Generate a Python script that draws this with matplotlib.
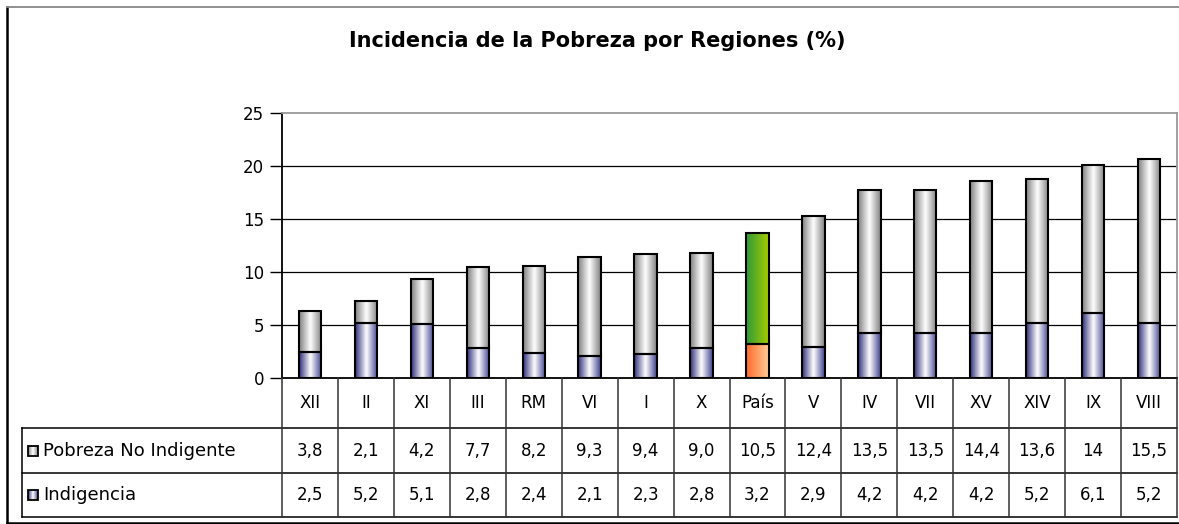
import numpy as np
import matplotlib
matplotlib.use("Agg")
from matplotlib import pyplot as plt
from matplotlib.colors import LinearSegmentedColormap
from matplotlib.patches import Rectangle
from matplotlib.lines import Line2D

regions = ["XII", "II", "XI", "III", "RM", "VI", "I", "X", "País",
           "V", "IV", "VII", "XV", "XIV", "IX", "VIII"]
no_indigente = [3.8, 2.1, 4.2, 7.7, 8.2, 9.3, 9.4, 9.0, 10.5,
                12.4, 13.5, 13.5, 14.4, 13.6, 14, 15.5]
indigencia = [2.5, 5.2, 5.1, 2.8, 2.4, 2.1, 2.3, 2.8, 3.2,
              2.9, 4.2, 4.2, 4.2, 5.2, 6.1, 5.2]
no_indigente_lbl = ["3,8", "2,1", "4,2", "7,7", "8,2", "9,3", "9,4", "9,0", "10,5",
                    "12,4", "13,5", "13,5", "14,4", "13,6", "14", "15,5"]
indigencia_lbl = ["2,5", "5,2", "5,1", "2,8", "2,4", "2,1", "2,3", "2,8", "3,2",
                  "2,9", "4,2", "4,2", "4,2", "5,2", "6,1", "5,2"]
series_names = ["Pobreza No Indigente", "Indigencia"]
yticks = [0, 5, 10, 15, 20, 25]
highlight = "País"

W, H = 1179, 524
plt.rcParams["font.family"] = ["DejaVu Sans"]

grey_cm = LinearSegmentedColormap.from_list("g", ["#808080", "#ffffff", "#808080"])
blue_cm = LinearSegmentedColormap.from_list("b", ["#2e2e7a", "#ffffff", "#40408f"])
orange_cm = LinearSegmentedColormap.from_list("o", ["#ff6a2a", "#ffcc99"])
green_cm = LinearSegmentedColormap.from_list("v", ["#2e9a3a", "#a6cc00"])
grad = np.linspace(0, 1, 128).reshape(1, -1)


def gradient_bar(ax, rect, cmap):
    x, y = rect.get_x(), rect.get_y()
    w, h = rect.get_width(), rect.get_height()
    ax.imshow(grad, cmap=cmap, extent=(x, x + w, y, y + h), aspect="auto",
              interpolation="bicubic", zorder=2)


fig = plt.figure(figsize=(W / 100, H / 100), dpi=100)
fig.patch.set_facecolor("white")

# outer frame: left/bottom dark, top light
fy = lambda p: 1 - p / H
fig.add_artist(Line2D([7 / W, 7 / W], [fy(7), fy(523)], color="black",
                      linewidth=1.8, transform=fig.transFigure))
fig.add_artist(Line2D([7 / W, 1], [fy(523), fy(523)], color="black",
                      linewidth=1.8, transform=fig.transFigure))
fig.add_artist(Line2D([7 / W, 1], [fy(7), fy(7)], color="#888888",
                      linewidth=1.3, transform=fig.transFigure))

fig.text(597 / W, fy(41), "Incidencia de la Pobreza por Regiones (%)",
         ha="center", va="center", fontsize=15, fontweight="bold")

# chart area
ax = fig.add_axes([282 / W, fy(378), 895 / W, (378 - 113) / H])
x = np.arange(len(regions))
b1 = ax.bar(x, indigencia, width=0.4, facecolor="none", edgecolor="black",
            linewidth=1.5, zorder=3)
b2 = ax.bar(x, no_indigente, width=0.4, bottom=indigencia, facecolor="none",
            edgecolor="black", linewidth=1.5, zorder=3)
for name, r1, r2 in zip(regions, b1, b2):
    if name == highlight:
        gradient_bar(ax, r1, orange_cm)
        gradient_bar(ax, r2, green_cm)
    else:
        gradient_bar(ax, r1, blue_cm)
        gradient_bar(ax, r2, grey_cm)

ax.set_xlim(-0.5, len(regions) - 0.5)
ax.set_ylim(0, 25)
ax.set_yticks(yticks)
ax.set_xticks([])
ax.tick_params(axis="y", direction="out", length=9, width=1, labelsize=12, pad=4)
for t in yticks[1:-1]:
    ax.axhline(t, color="black", linewidth=0.9, zorder=1)
ax.spines["left"].set_color("black")
ax.spines["bottom"].set_color("black")
ax.spines["top"].set_color("#999999")
ax.spines["right"].set_color("#999999")
for s in ax.spines.values():
    s.set_linewidth(1.3)
    s.set_zorder(4)

# data table
col_w = 895 / len(regions)
left_units = 260 / col_w
tab = fig.add_axes([22 / W, fy(517), (1177 - 22) / W, (517 - 378) / H])
row_tops = [0, 50, 95, 139]
x0 = -0.5 - left_units
xr = len(regions) - 0.5
for yy in row_tops[1:]:
    tab.plot([x0, xr], [yy, yy], color="black", linewidth=1.1, clip_on=False)
tab.plot([x0, x0], [row_tops[1], row_tops[3]], color="black", linewidth=1.1,
         clip_on=False)
for k in range(len(regions) + 1):
    tab.plot([k - 0.5, k - 0.5], [0, row_tops[3]], color="#333333",
             linewidth=1.1, clip_on=False)

cat_y = (row_tops[0] + row_tops[1]) / 2
r1_y = (row_tops[1] + row_tops[2]) / 2
r2_y = (row_tops[2] + row_tops[3]) / 2
for i, name in enumerate(regions):
    tab.text(i, cat_y, name, ha="center", va="center", fontsize=12)
    tab.text(i, r1_y, no_indigente_lbl[i], ha="center", va="center", fontsize=12)
    tab.text(i, r2_y, indigencia_lbl[i], ha="center", va="center", fontsize=12)

key_cms = [grey_cm, blue_cm]
for ry, label, cm in zip([r1_y, r2_y], series_names, key_cms):
    kx = x0 + 6 / col_w
    kw = 10 / col_w
    tab.imshow(grad, cmap=cm, extent=(kx, kx + kw, ry + 5, ry - 5),
               aspect="auto", zorder=2)
    tab.add_patch(Rectangle((kx, ry - 5), kw, 10, fill=False,
                            edgecolor="black", linewidth=1.3, zorder=3))
    tab.text(kx + kw + 5 / col_w, ry, label, ha="left", va="center", fontsize=13)
tab.set_xlim(x0, xr)
tab.set_ylim(row_tops[3], 0)
tab.axis("off")

fig.savefig("out.png", dpi=100)
